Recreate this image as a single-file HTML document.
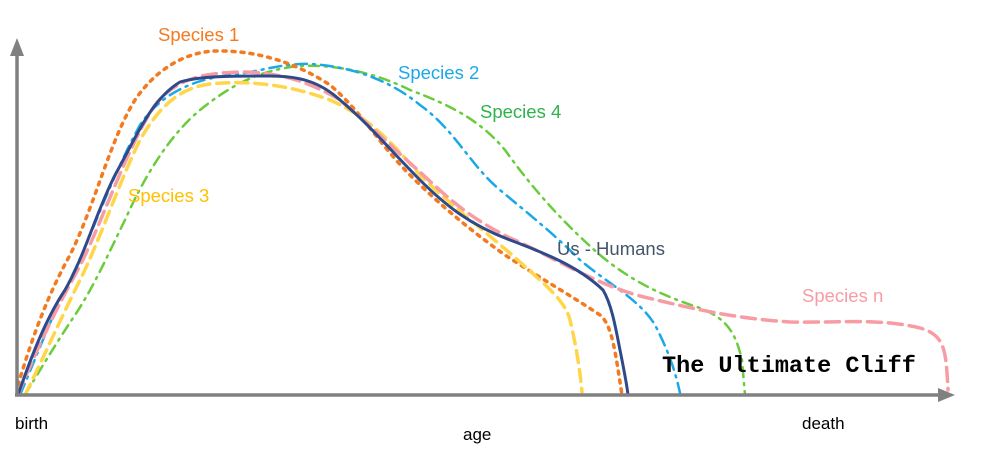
<!DOCTYPE html>
<html><head><style>
html,body{margin:0;padding:0;background:#fff;}
svg{display:block;}
text{font-family:"Liberation Sans",sans-serif;}
</style></head><body>
<svg width="993" height="473" viewBox="0 0 993 473" xmlns="http://www.w3.org/2000/svg">
<g fill="none" stroke-linejoin="round" stroke-linecap="round">
<path d="M25,395 C40,370 55,345 75,315 C95,285 110,250 125,220 C145,175 170,135 200,110 C225,90 255,70 300,66 C340,64 380,75 410,90 C450,105 480,120 505,150 C530,185 560,220 600,255 C630,280 660,295 700,308 C725,318 735,330 742,360 L745,395" stroke="#6acc3c" stroke-width="2.5" stroke-dasharray="10,6,2,6"/>
<path d="M20,395 C35,360 50,320 70,280 C90,240 110,180 140,125 C160,95 190,80 230,75 C260,72 280,63 310,64 C350,66 390,80 420,105 C455,130 470,165 500,190 C530,215 555,235 580,260 C610,285 640,300 655,325 C668,350 675,370 680,393" stroke="#1ba8e8" stroke-width="2.5" stroke-dasharray="12,6,2,6"/>
<path d="M18,385 C30,345 45,300 70,255 C95,205 110,140 135,100 C155,70 185,52 215,51 C255,50 295,62 330,85 C360,110 380,145 410,175 C440,205 470,230 505,255 C540,278 570,295 600,315 C612,325 615,350 622,395" stroke="#f47a20" stroke-width="3.5" stroke-dasharray="3,6"/>
<path d="M25,395 C40,365 60,320 80,280 C100,240 120,180 140,140 C160,105 180,88 210,84 C250,80 290,85 330,100 C365,115 390,140 420,175 C450,205 490,235 520,262 C545,285 565,300 570,320 C576,345 580,370 582,392" stroke="#ffd64a" stroke-width="3.5" stroke-dasharray="12,7"/>
<path d="M18,395 C30,365 50,320 75,275 C100,230 125,150 155,105 C175,80 200,73 240,72 C280,72 310,82 340,100 C370,125 395,150 420,172 C450,200 470,218 510,238 C550,255 590,282 640,296 C690,308 730,318 790,322 C840,323 880,318 920,328 C945,335 946,350 948,390" stroke="#f89ca4" stroke-width="3.5" stroke-dasharray="14,7"/>
<path d="M18,395 C30,360 45,320 65,290 C85,255 95,215 115,175 C135,140 150,100 180,82 C200,76 230,76 270,76 C300,76 320,82 340,100 C370,125 390,150 420,180 C445,205 470,225 510,240 C550,255 580,268 603,290 C612,305 616,330 620,350 C624,370 627,385 628,395" stroke="#2f4a8a" stroke-width="3"/>
</g>
<g stroke="#808080" stroke-width="3.5">
<line x1="17" y1="396" x2="17" y2="52"/>
<line x1="15" y1="395" x2="940" y2="395"/>
</g>
<polygon points="17,38 10,56 24,56" fill="#808080"/>
<polygon points="955,395 938,388 938,402" fill="#808080"/>
<text x="158" y="41" font-size="18.5" fill="#f47a20">Species 1</text>
<text x="398" y="79" font-size="18.5" fill="#1ba8e8">Species 2</text>
<text x="480" y="118" font-size="18.5" fill="#2db34a">Species 4</text>
<text x="128" y="202" font-size="18.5" fill="#ffc000">Species 3</text>
<text x="557" y="255" font-size="18.5" fill="#44546a">Us - Humans</text>
<text x="802" y="302" font-size="18.5" fill="#f89ca4">Species n</text>
<text x="662" y="372" font-size="23.5" font-weight="bold" fill="#000" style="font-family:'Liberation Mono',monospace">The Ultimate Cliff</text>
<text x="15" y="429" font-size="17" fill="#000">birth</text>
<text x="463" y="440" font-size="17" fill="#000">age</text>
<text x="802" y="429" font-size="17" fill="#000">death</text>
</svg>
</body></html>
